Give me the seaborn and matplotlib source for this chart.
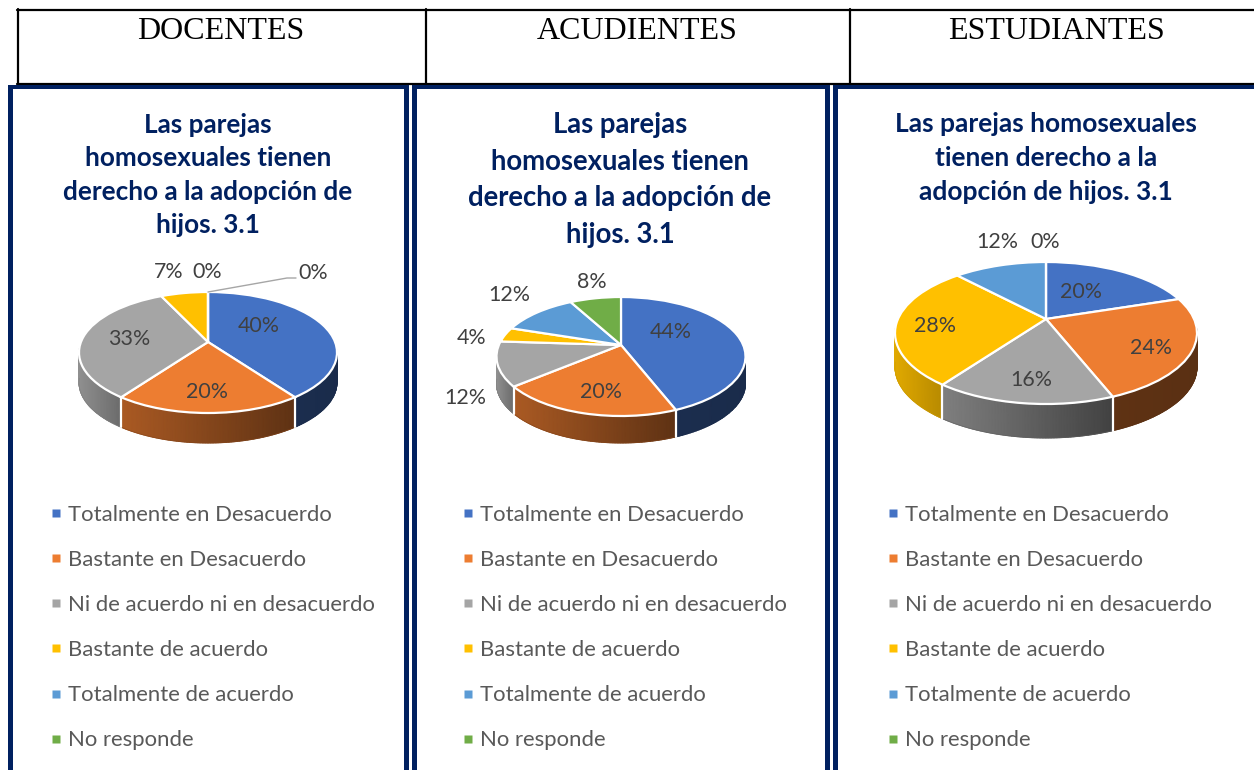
import numpy as np
import matplotlib
matplotlib.use("Agg")
import matplotlib.pyplot as plt
import matplotlib.transforms as mtrans
from matplotlib.colors import LinearSegmentedColormap
from matplotlib.lines import Line2D
from matplotlib.patches import Rectangle
import seaborn as sns

categories = ["Totalmente en Desacuerdo", "Bastante en Desacuerdo",
              "Ni de acuerdo ni en desacuerdo", "Bastante de acuerdo",
              "Totalmente de acuerdo", "No responde"]
docentes = [40, 20, 33, 7, 0, 0]
acudientes = [44, 20, 12, 4, 12, 8]
estudiantes = [20, 24, 16, 28, 12, 0]
headers = ["DOCENTES", "ACUDIENTES", "ESTUDIANTES"]
titles = ["Las parejas\nhomosexuales tienen\nderecho a la adopción de\nhijos. 3.1",
          "Las parejas\nhomosexuales tienen\nderecho a la adopción de\nhijos. 3.1",
          "Las parejas homosexuales\ntienen derecho a la\nadopción de hijos. 3.1"]
colors = sns.color_palette(["#4472C4", "#ED7D31", "#A5A5A5", "#FFC000", "#5B9BD5", "#70AD47"])
NAVY = "#002060"
GREY_TEXT = "#404040"

sns.set_theme(style="white")
plt.rcParams["font.family"] = ["Lato", "DejaVu Sans"]


class Persp(mtrans.Transform):
    input_dims = 2
    output_dims = 2

    def __init__(self, cx, cy, a, b, k):
        super().__init__()
        self.p = (cx, cy, a, b, k)

    def transform_non_affine(self, pts):
        cx, cy, a, b, k = self.p
        pts = np.asarray(pts, float)
        s = 1.0 / (1.0 + k * pts[:, 1])
        return np.column_stack([cx + a * pts[:, 0] * s, cy - b * pts[:, 1] * s])


def draw_pie(ax, values, geom, shades, labels, title, title_xy, title_size, title_ls,
             leg_xmarker, header, header_x):
    cx, cy, rx, top, bottom, depth = geom
    up, down = cy - top, bottom - cy
    k = (down - up) / (down + up)
    b = up * (1 + k)
    a = rx * np.sqrt(1 - k * k)
    proj = Persp(cx, cy, a, b, k)

    # side wall: a smooth gradient band below each front-facing slice
    edges = 90 - 3.6 * np.concatenate([[0], np.cumsum(values)])
    for i, v in enumerate(values):
        if v == 0:
            continue
        th = np.radians(np.linspace(edges[i], edges[i + 1], 120))
        pts = np.column_stack([np.cos(th), np.sin(th)])
        keep = pts[:, 1] < -k * 0.6
        if keep.sum() < 2:
            continue
        xy = proj.transform_non_affine(pts[keep])
        fl, fr = shades.get(i, (0.5, 0.5))
        cmap = LinearSegmentedColormap.from_list(
            "wall", [tuple(c * fl for c in colors[i]), tuple(c * fr for c in colors[i])])
        t = (xy[:, 0] - xy[:, 0].min()) / max(np.ptp(xy[:, 0]), 1e-6)
        X = np.vstack([xy[:, 0], xy[:, 0]])
        Y = np.vstack([xy[:, 1], xy[:, 1] + depth])
        C = np.vstack([t, t])
        ax.pcolormesh(X, Y, C, cmap=cmap, vmin=0, vmax=1, shading="gouraud", zorder=2)
        ax.plot(xy[:, 0], xy[:, 1] + depth, color=cmap(0.5), lw=0.6, alpha=0.6, zorder=2)
    # separators on the wall
    for e in edges:
        p = np.array([[np.cos(np.radians(e)), np.sin(np.radians(e))]])
        if p[0, 1] < -k:
            q = proj.transform_non_affine(p)[0]
            ax.plot([q[0], q[0]], [q[1], q[1] + depth], color="white", lw=1.6, zorder=3)

    # top face
    wedges, _ = ax.pie(values, colors=colors, startangle=90, counterclock=False,
                       wedgeprops=dict(edgecolor="white", linewidth=1.6))
    for w in wedges:
        w.set_transform(proj + ax.transData)
        w.set_zorder(4)

    for (txt, x, y) in labels:
        ax.text(x, y + 1, txt, ha="center", va="center", fontsize=15.4, color=GREY_TEXT, zorder=6)

    ax.text(title_xy[0], title_xy[1], title, ha="center", va="center", fontsize=title_size,
            fontweight="bold", color=NAVY, linespacing=title_ls, zorder=6)
    ax.text(header_x, 31.5, header, ha="center", va="center", fontsize=23, color="black",
            family=["Liberation Serif"], zorder=6)

    handles = [Line2D([], [], ls="", marker="s", ms=5.6, color=c, mec="none") for c in colors]
    leg = ax.legend(handles, categories, loc="upper left", bbox_to_anchor=(leg_xmarker, 770 - 505),
                    bbox_transform=mtrans.IdentityTransform(),
                    frameon=False, fontsize=15.9, labelcolor="#595959",
                    labelspacing=1.135, handlelength=0.55, handletextpad=0.25,
                    borderpad=0, borderaxespad=0)
    leg.set_zorder(6)
    ax.add_artist(leg)
    ax.legend_ = None


fig = plt.figure(figsize=(12.54, 7.70), dpi=100)
ax = fig.add_axes([0, 0, 1, 1])

draw_pie(ax, docentes, (208, 342, 129, 292, 413, 30),
         {0: (0.40, 0.38), 1: (0.72, 0.40), 2: (0.87, 0.65)},
         [("40%", 259, 325), ("20%", 207, 391), ("33%", 129, 338),
          ("7%", 169, 271), ("0%", 207, 271), ("0%", 313, 272)],
         titles[0], (208, 175), 18.8, 1.46, 50, headers[0], 221)
draw_pie(ax, acudientes, (621, 345, 124.5, 297, 416, 27),
         {0: (0.40, 0.38), 1: (0.72, 0.40), 2: (0.87, 0.65)},
         [("44%", 671, 331), ("20%", 601, 391), ("12%", 465, 397),
          ("4%", 472, 337), ("12%", 509, 294), ("8%", 592, 281)],
         titles[1], (620, 180), 19.8, 1.5, 462, headers[1], 637)
draw_pie(ax, estudiantes, (1046, 319, 151, 262, 404, 34),
         {1: (0.40, 0.38), 2: (0.77, 0.40), 3: (0.88, 0.72)},
         [("20%", 1081, 291), ("24%", 1151, 347), ("16%", 1031, 379),
          ("28%", 935, 325), ("12%", 997, 241), ("0%", 1045, 241)],
         titles[2], (1046, 158), 19, 1.5, 887, headers[2], 1056)

ax.plot([208, 287, 296], [292, 278, 278], color="#A6A6A6", lw=1, zorder=5)

# header table
for x in (17.5, 426, 850):
    ax.plot([x, x], [9, 84], color="black", lw=1.6, zorder=7)
for y in (9.5, 83.5):
    ax.plot([17, 1254], [y, y], color="black", lw=1.6, zorder=7)

# navy panel frames
for (x0, x1) in ((8, 13), (404, 409), (412, 417), (825, 830), (833, 838)):
    ax.add_patch(Rectangle((x0, 85), x1 - x0, 685, color=NAVY, lw=0, zorder=7))
for (x0, x1) in ((8, 409), (412, 830), (833, 1254)):
    ax.add_patch(Rectangle((x0, 85), x1 - x0, 4, color=NAVY, lw=0, zorder=7))

ax.set_xlim(0, 1254)
ax.set_ylim(770, 0)
ax.set_aspect("auto")
ax.axis("off")
fig.savefig("out.png", dpi=100, facecolor="white")
